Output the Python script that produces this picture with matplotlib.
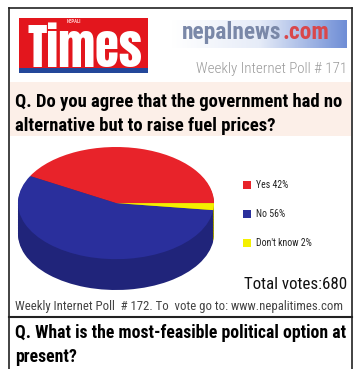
import matplotlib.pyplot as plt
import numpy as np
from matplotlib.patches import Rectangle
from matplotlib.colors import LinearSegmentedColormap

W, H = 356, 369
fig = plt.figure(figsize=(W / 100, H / 100), dpi=100)
fig.patch.set_facecolor('white')
renderer = fig.canvas.get_renderer()

cond = ['Roboto Condensed', 'DejaVu Sans']
logo_font = ['Anton', 'Oswald', 'Roboto Condensed', 'DejaVu Sans']

# data
labels = ["Yes 42%", "No 56%", "Don't know 2%"]
values = [42, 56, 2]
colors = ['#e8232a', '#2a2f9c', '#f4f000']
side_colors = ['#9a1a1e', '#20247a', '#a8a300']
question = ["Q. Do you agree that the government had no",
            "alternative but to raise fuel prices?"]
next_question = ["Q. What is the most-feasible political option at", "present?"]
total_votes = 680
poll_no = 171
next_poll_text = "Weekly Internet Poll  # 172. To  vote go to: www.nepalitimes.com"


def fx(x):
    return x / W


def fy(y):
    return 1 - y / H


def box(x0, y0, x1, y1, **kw):
    fig.patches.append(Rectangle((fx(x0), fy(y1)), (x1 - x0) / W, (y1 - y0) / H,
                                 transform=fig.transFigure, **kw))


def fit(t, width_px):
    # shrink/grow the font so the text spans the width seen in the picture
    w = t.get_window_extent(renderer).width
    t.set_fontsize(t.get_fontsize() * width_px / w)
    return t


# outer frame
fig.add_artist(plt.Line2D([fx(9), fx(9)], [fy(8), 0], color='#222', lw=1.2))
fig.add_artist(plt.Line2D([fx(352), fx(352)], [fy(8), 0], color='#222', lw=1.2))
fig.add_artist(plt.Line2D([fx(9), fx(352)], [fy(8), fy(8)], color='#222', lw=1.2))

# Times logo
box(19, 18, 148, 68, facecolor='#e3161d', edgecolor='none')
box(19, 68, 148, 73, facecolor='#23479a', edgecolor='none')
t = fig.text(fx(27), fy(67), "Times", color='white', fontsize=40, fontweight='bold',
             family=logo_font, ha='left', va='baseline')
fit(t, 115)
fig.text(fx(74), fy(23), "NEPALI", color='#ffd0d0', fontsize=3.5, fontweight='bold',
         family=cond, ha='center', va='baseline')

# nepalnews logo
axl = fig.add_axes([fx(172), fy(48), 175 / W, 28 / H])
grad = np.linspace(0, 1, 200)[None, :]
cm = LinearSegmentedColormap.from_list('g', ['#ffffff', '#e6ecf8', '#6f8ed6'])
axl.imshow(grad, aspect='auto', cmap=cm, extent=(0, 1, 0, 1))
axl.set_axis_off()
t1 = fig.text(fx(182), fy(39), "nepalnews", color='#7a88a8', fontsize=15,
              fontweight='bold', family=cond, ha='left', va='baseline')
fit(t1, 100)
t2 = fig.text(fx(282), fy(39), ".com", color='#d9474b', fontsize=t1.get_fontsize(),
              fontweight='bold', family=cond, ha='left', va='baseline')

t = fig.text(fx(347), fy(73), f"Weekly Internet Poll # {poll_no}", color='#9a9a9a',
             fontsize=12, family=cond, fontweight='light', ha='right', va='baseline')
fit(t, 152)

# question band
box(10, 82, 351, 136, facecolor='#fcefe8', edgecolor='none')
t = fig.text(fx(15), fy(107), question[0], fontsize=12, fontweight='bold',
             family=cond, ha='left', va='baseline')
fit(t, 328)
fig.text(fx(15), fy(131), question[1], fontsize=t.get_fontsize(), fontweight='bold',
         family=cond, ha='left', va='baseline')

# pie (tilted, with depth)
ax = fig.add_axes([fx(18), fy(290), 196 / W, 143 / H])
depth = 0.55
for d in np.linspace(-depth, -0.02, 20):
    ax.pie(values, colors=side_colors, startangle=0, counterclock=True,
           center=(0, d), radius=1, wedgeprops=dict(linewidth=0))
ax.pie(values, colors=colors, startangle=0, counterclock=True,
       center=(0, 0), radius=1, wedgeprops=dict(linewidth=0))
ax.set_aspect('auto')
ax.set_xlim(-1, 1)
ax.set_ylim(-1 - depth, 1)
ax.set_axis_off()

# legend
for i, (lab, c) in enumerate(zip(labels, colors)):
    y = 185 + 29 * i
    box(243, y - 4, 251, y + 4, facecolor=c, edgecolor='none')
    fig.text(fx(256), fy(y), lab, fontsize=7, family=cond, ha='left', va='center',
             color='#222')

t = fig.text(fx(347), fy(289), f"Total votes:{total_votes}", fontsize=12.5, family=cond,
             ha='right', va='baseline', color='#111')
fit(t, 104)

t = fig.text(fx(15), fy(310), next_poll_text,
             fontsize=10, family=cond, ha='left', va='baseline', color='#444')
fit(t, 325)
fig.add_artist(plt.Line2D([fx(9), fx(352)], [fy(317), fy(317)], color='#222', lw=1.5))

t = fig.text(fx(15), fy(338), next_question[0], fontsize=13, fontweight='bold',
             family=cond, ha='left', va='baseline')
fit(t, 330)
fig.text(fx(15), fy(362), next_question[1], fontsize=t.get_fontsize(), fontweight='bold',
         family=cond, ha='left', va='baseline')

fig.savefig('out.png', dpi=100, facecolor='white')
